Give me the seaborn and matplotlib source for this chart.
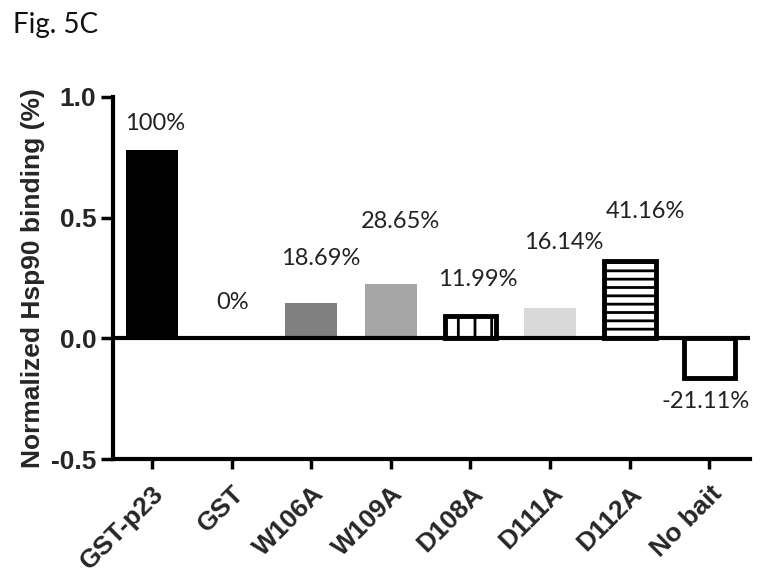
import matplotlib
matplotlib.use("Agg")
import matplotlib.pyplot as plt
import seaborn as sns

# data
samples = ["GST-p23", "GST", "W106A", "W109A", "D108A", "D111A", "D112A", "No bait"]
binding = [0.78, 0.0, 0.146, 0.224, 0.094, 0.126, 0.322, -0.165]
pct_labels = ["100%", "0%", "18.69%", "28.65%", "11.99%", "16.14%", "41.16%", "-21.11%"]

# bar styling
fills = ["#000000", "#ffffff", "#808080", "#a6a6a6", "#ffffff", "#d9d9d9", "#ffffff", "#ffffff"]
hatches = [None, None, None, None, "|", None, "--", None]
outlined = [False, False, False, False, True, False, True, True]

# label offsets from bar end (points)
label_dx = [2, 1, 7, 7, 5, 10, 11, -3]
label_dy = [19, 26, 32, 45, 26, 47, 35, -17]

sns.set_style("ticks")
plt.rcParams["hatch.linewidth"] = 2.0
plt.rcParams["font.family"] = ["Liberation Sans", "DejaVu Sans"]


def main():
    fig = plt.figure(figsize=(7.63, 5.87), dpi=100)
    ax = fig.add_axes([0.148, 0.218, 0.835, 0.617])

    sns.barplot(x=samples, y=binding, hue=samples, palette=fills,
                legend=False, width=0.65, saturation=1, ax=ax)

    for i, bar in enumerate(ax.patches):
        if outlined[i]:
            bar.set_edgecolor("black")
            bar.set_linewidth(3.5)
        else:
            bar.set_edgecolor("none")
            bar.set_linewidth(0)
        if hatches[i]:
            bar.set_hatch(hatches[i])

    # zero line
    ax.axhline(0, color="black", lw=3, zorder=3)

    # percent labels
    for i, txt in enumerate(pct_labels):
        ax.annotate(txt, xy=(i, binding[i]), xytext=(label_dx[i], label_dy[i]),
                    textcoords="offset points", ha="center", va="center",
                    fontsize=17, color="#222222", family=["Lato", "DejaVu Sans"])

    ax.set_ylim(-0.5, 1.0)
    ax.set_xlim(-0.49, 7.51)
    ax.set_yticks([-0.5, 0.0, 0.5, 1.0])
    ax.set_yticklabels(["-0.5", "0.0", "0.5", "1.0"], fontsize=19, fontweight="bold")
    ax.set_xticks(range(len(samples)))
    ax.set_xticklabels(samples, rotation=45, ha="right", rotation_mode="anchor",
                       fontsize=19, fontweight="bold")
    ax.set_ylabel("Normalized Hsp90 binding (%)", fontsize=19, fontweight="bold", labelpad=4)
    ax.set_xlabel("")

    sns.despine(ax=ax)
    for s in ["left", "bottom"]:
        ax.spines[s].set_linewidth(3)
        ax.spines[s].set_color("black")
    ax.tick_params(axis="y", length=9, width=2.5, color="black", pad=3)
    ax.tick_params(axis="x", length=7, width=2.5, color="black", pad=9)

    fig.text(0.017, 0.958, "Fig. 5C", fontsize=20, va="center", ha="left",
             family=["Lato", "DejaVu Sans"], color="#111111")

    fig.savefig("out.png", dpi=100)
    plt.close(fig)


if __name__ == "__main__":
    main()
